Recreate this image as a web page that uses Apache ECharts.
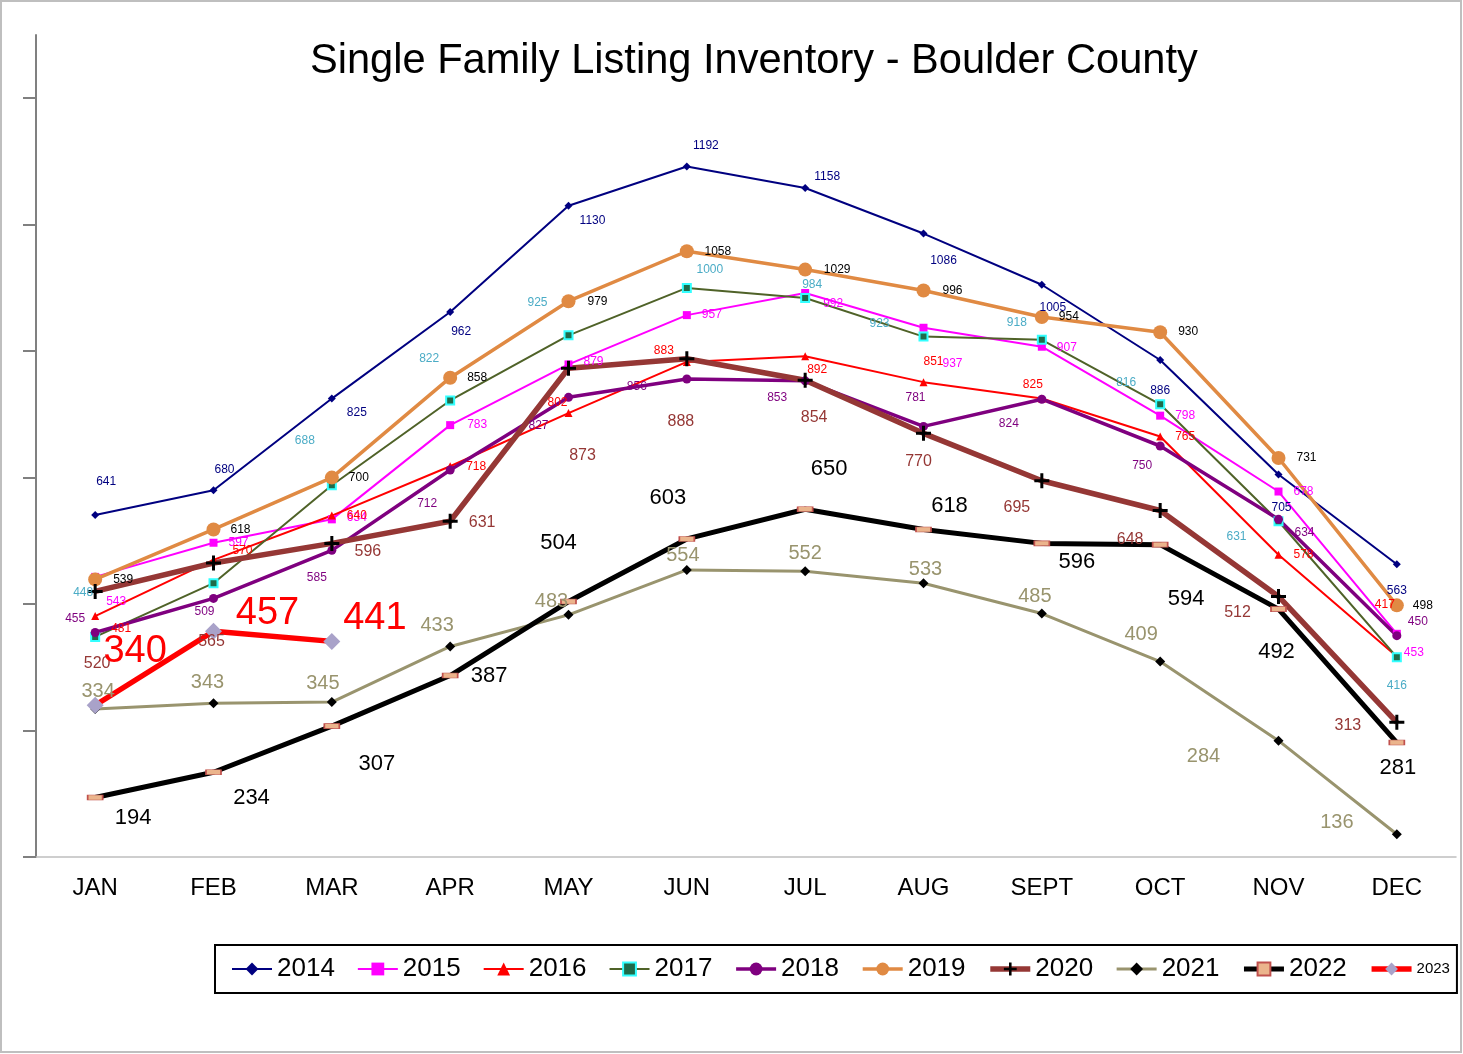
<!DOCTYPE html>
<html>
<head>
<meta charset="utf-8">
<title>Single Family Listing Inventory - Boulder County</title>
<style>
  html, body { margin: 0; padding: 0; background: #fff; }
  #main { width: 1463px; height: 1054px; }
</style>
</head>
<body>
<div id="main"></div>
<script src="https://cdn.jsdelivr.net/npm/echarts@6/dist/echarts.min.js"></script>
<script>
var months = ['JAN', 'FEB', 'MAR', 'APR', 'MAY', 'JUN', 'JUL', 'AUG', 'SEPT', 'OCT', 'NOV', 'DEC'];
var yTicks = [100, 300, 500, 700, 900, 1100, 1300];

var y2014 = [641, 680, 825, 962, 1130, 1192, 1158, 1086, 1005, 886, 705, 563];
var y2015 = [543, 597, 634, 783, 879, 957, 992, 937, 907, 798, 678, 453];
var y2016 = [481, 570, 640, 718, 802, 883, 892, 851, 825, 765, 578, 417];
var y2017 = [448, 533, 688, 822, 925, 1000, 984, 923, 918, 816, 631, 416];
var y2018 = [455, 509, 585, 712, 827, 856, 853, 781, 824, 750, 634, 450];
var y2019 = [539, 618, 700, 858, 979, 1058, 1029, 996, 954, 930, 731, 498];
var y2020 = [520, 565, 596, 631, 873, 888, 854, 770, 695, 648, 512, 313];
var y2021 = [334, 343, 345, 433, 483, 554, 552, 533, 485, 409, 284, 136];
var y2022 = [194, 234, 307, 387, 504, 603, 650, 618, 596, 594, 492, 281];
var y2023 = [340, 457, 441];

// where each value label sits relative to its point (the original was hand-placed)
var nudge = {
  '2014': [[11,-33],[11,-21],[25,14],[11,20],[24,15],[19,-21],[22,-11],[20,27],[11,23],[0,31],[3,33],[0,26]],
  '2015': [[21,25],[25,0],[25,-2],[27,0],[25,-3],[25,0],[28,11],[29,36],[25,1],[25,0],[25,0],[17,19]],
  '2016': [[26,13],[29,-9],[25,0],[26,0],[-11,-10],[-23,-11],[12,13],[10,-20],[-9,-14],[25,0],[25,0],[-12,-52]],
  '2017': [[-12,-44],null,[-27,-45],[-21,-42],[-31,-33],[23,-18],[7,-13],[-44,-13],[-25,-17],[-34,-22],[-42,15],[0,28]],
  '2018': [[-20,-14],[-9,13],[-15,27],[-23,34],[-30,28],[-50,8],[-28,17],[-8,-29],[-33,24],[-18,20],[26,13],[21,-14]],
  '2019': [[28,0],[27,0],[27,0],[27,0],[29,0],[31,0],[32,0],[29,0],[27,0],[28,0],[28,0],[26,0]],
  '2020': [[2,72],[-2,79],[36,8],[32,1],[14,87],[-6,63],[9,37],[-5,28],[-25,27],[-30,29],[-41,16],[-49,3]],
  '2021': [[3,-18],[-6,-21],[-9,-19],[-13,-21],[-17,-13],[-4,-14],[0,-18],[2,-14],[-7,-17],[-19,-27],[-75,16],[-60,-12]],
  '2022': [[38,20],[38,26],[45,38],[39,0],[-10,-59],[-19,-41],[24,-40],[26,-24],[35,19],[26,54],[-2,43],[1,25]],
  '2023': [[40,-54],[54,-18],[43,-23]]
};

var FONT = '"Liberation Sans", Arial, sans-serif';
var plus = 'path://M4,0h2v4h4v2h-4v4h-2v-4h-4v-2h4z';

function line(name, values, o) {
  var offs = nudge[name];
  return {
    name: name,
    type: 'line',
    symbol: o.symbol,
    symbolSize: o.symbolSize,
    showAllSymbol: true,
    lineStyle: { color: o.line, width: o.width },
    itemStyle: o.item,
    label: {
      show: true,
      position: ['50%', '50%'],
      align: 'center',
      verticalAlign: 'middle',
      color: o.labelColor,
      fontSize: o.fontSize,
      fontFamily: FONT
    },
    emphasis: { disabled: true },
    data: values.map(function (v, i) {
      var off = offs[i];
      return off ? { value: v, label: { offset: off } } : { value: v, label: { show: false } };
    })
  };
}

var series = [
  line('2014', y2014, { symbol: 'diamond', symbolSize: 8, line: '#000080', width: 2,
    item: { color: '#000080' }, labelColor: '#000080', fontSize: 12 }),
  line('2015', y2015, { symbol: 'rect', symbolSize: 8, line: '#FF00FF', width: 2,
    item: { color: '#FF00FF' }, labelColor: '#FF00FF', fontSize: 12 }),
  line('2016', y2016, { symbol: 'triangle', symbolSize: 8, line: '#FF0000', width: 2,
    item: { color: '#FF0000' }, labelColor: '#FF0000', fontSize: 12 }),
  line('2017', y2017, { symbol: 'rect', symbolSize: 8, line: '#4F6228', width: 2,
    item: { color: '#1F6B4A', borderColor: '#33FFFF', borderWidth: 2 }, labelColor: '#4BACC6', fontSize: 12 }),
  line('2018', y2018, { symbol: 'circle', symbolSize: 9, line: '#7F007F', width: 3.5,
    item: { color: '#7F007F' }, labelColor: '#7F007F', fontSize: 12 }),
  line('2019', y2019, { symbol: 'circle', symbolSize: 14, line: '#E08A43', width: 3.5,
    item: { color: '#E08A43' }, labelColor: '#000', fontSize: 12 }),
  line('2020', y2020, { symbol: plus, symbolSize: 15, line: '#953735', width: 5.5,
    item: { color: '#000' }, labelColor: '#953735', fontSize: 16 }),
  line('2021', y2021, { symbol: 'diamond', symbolSize: 10, line: '#99946E', width: 3,
    item: { color: '#000' }, labelColor: '#99946E', fontSize: 20 }),
  line('2022', y2022, { symbol: 'rect', symbolSize: [15, 5], line: '#000', width: 5,
    item: { color: '#EBB48C', borderColor: '#C0504D', borderWidth: 1 }, labelColor: '#000', fontSize: 22 }),
  line('2023', y2023, { symbol: 'diamond', symbolSize: 17, line: '#FF0000', width: 5.5,
    item: { color: '#A9A2C9' }, labelColor: '#FF0000', fontSize: 38 })
];

// legend swatches drawn with the same line weights as the plot
var legendItems = series.map(function (s) {
  var item = { name: s.name, lineStyle: { width: s.lineStyle.width } };
  if (s.name === '2023') item.textStyle = { fontSize: 15 };
  return item;
});

var chart = echarts.init(document.getElementById('main'));
chart.setOption({
  animation: false,
  backgroundColor: '#fff',
  title: {
    text: 'Single Family Listing Inventory - Boulder County',
    left: 310,
    top: 41,
    padding: 0,
    textStyle: { fontSize: 41.6, fontWeight: 'normal', color: '#000', fontFamily: FONT }
  },
  grid: { left: 36, right: 7, top: 35, bottom: 197, containLabel: false },
  xAxis: {
    type: 'category',
    data: months,
    boundaryGap: true,
    axisLine: { lineStyle: { color: '#BFBFBF', width: 1.5 } },
    axisTick: { length: 8, lineStyle: { color: '#BFBFBF', width: 1.5 } },
    axisLabel: { fontSize: 24, color: '#000', margin: 19, fontFamily: FONT }
  },
  yAxis: {
    type: 'value',
    min: 100,
    max: 1400,
    axisLine: { show: true, lineStyle: { color: '#808080', width: 2 } },
    axisTick: { show: true, customValues: yTicks, length: 13, lineStyle: { color: '#808080', width: 2 } },
    axisLabel: { show: false },
    splitLine: { show: false }
  },
  legend: {
    left: 215,
    top: 945,
    width: 1248,
    padding: [11, 7, 11, 16],
    borderColor: '#000',
    borderWidth: 2,
    itemWidth: 40,
    itemHeight: 16,
    itemGap: 22,
    textStyle: { fontSize: 26, color: '#000', fontFamily: FONT },
    data: legendItems
  },
  graphic: [{
    type: 'rect',
    shape: { x: 1, y: 1, width: 1460, height: 1051 },
    style: { fill: 'none', stroke: '#BFBFBF', lineWidth: 2 },
    silent: true
  }],
  series: series
});
</script>
</body>
</html>
